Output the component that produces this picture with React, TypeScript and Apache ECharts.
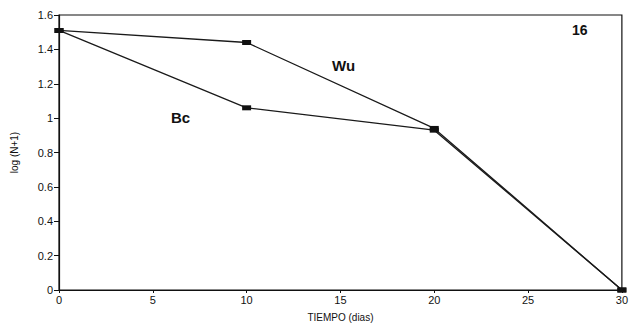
import React, { useEffect, useRef } from "react";
import * as echarts from "echarts";

const days = [0, 10, 20, 30];
const wuValues = [1.51, 1.44, 0.94, 0];
const bcValues = [1.51, 1.06, 0.93, 0];
const xTicks = [0, 5, 10, 15, 20, 25, 30];
const yTicks = [0, 0.2, 0.4, 0.6, 0.8, 1, 1.2, 1.4, 1.6];

export default function App() {
  const ref = useRef<HTMLDivElement>(null);
  useEffect(() => {
    const chart = echarts.init(ref.current!, null, { renderer: "svg" });
    const font = "Liberation Sans, Arial, sans-serif";
    const mk = (name: string, vals: number[]) => ({
      name,
      type: "line",
      data: days.map((d, i) => [d, vals[i]]),
      symbol: "rect",
      symbolSize: [9, 5],
      itemStyle: { color: "#111" },
      lineStyle: { color: "#1a1a1a", width: 1.3 },
    });
    chart.setOption({
      animation: false,
      backgroundColor: "#fff",
      grid: {
        left: 59,
        right: 9,
        top: 15,
        bottom: 36,
        show: true,
        borderColor: "#111",
        borderWidth: 1.2,
      },
      xAxis: {
        type: "value",
        min: xTicks[0],
        max: xTicks[xTicks.length - 1],
        interval: 5,
        name: "TIEMPO (dias)",
        nameLocation: "middle",
        nameGap: 22,
        nameTextStyle: { fontFamily: font, fontSize: 10, color: "#111" },
        axisLine: { lineStyle: { color: "#111", width: 1.2 } },
        axisTick: { show: true, length: 3, lineStyle: { color: "#111" } },
        axisLabel: { fontFamily: font, fontSize: 11, color: "#111", margin: 4 },
        splitLine: { show: false },
      },
      yAxis: {
        type: "value",
        min: yTicks[0],
        max: yTicks[yTicks.length - 1],
        interval: 0.2,
        name: "log (N+1)",
        nameLocation: "middle",
        nameGap: 40,
        nameTextStyle: { fontFamily: font, fontSize: 10, color: "#111" },
        axisLine: { show: true, lineStyle: { color: "#111", width: 1.2 } },
        axisTick: { show: true, length: 5, lineStyle: { color: "#111" } },
        axisLabel: {
          fontFamily: font,
          fontSize: 11,
          color: "#111",
          margin: 6,
          formatter: (v: number) => String(+v.toFixed(1)),
        },
        splitLine: { show: false },
      },
      series: [mk("Wu", wuValues), mk("Bc", bcValues)],
      graphic: [
        {
          type: "text",
          x: 332,
          y: 58,
          style: { text: "Wu", font: `bold 15px ${font}`, fill: "#111" },
        },
        {
          type: "text",
          x: 171,
          y: 110,
          style: { text: "Bc", font: `bold 15px ${font}`, fill: "#111" },
        },
        {
          type: "text",
          x: 572,
          y: 23,
          style: { text: "16", font: `bold 14px ${font}`, fill: "#111" },
        },
      ],
    });
    return () => chart.dispose();
  }, []);
  return <div ref={ref} style={{ width: 631, height: 327, position: "absolute", left: 0, top: 0 }} />;
}
